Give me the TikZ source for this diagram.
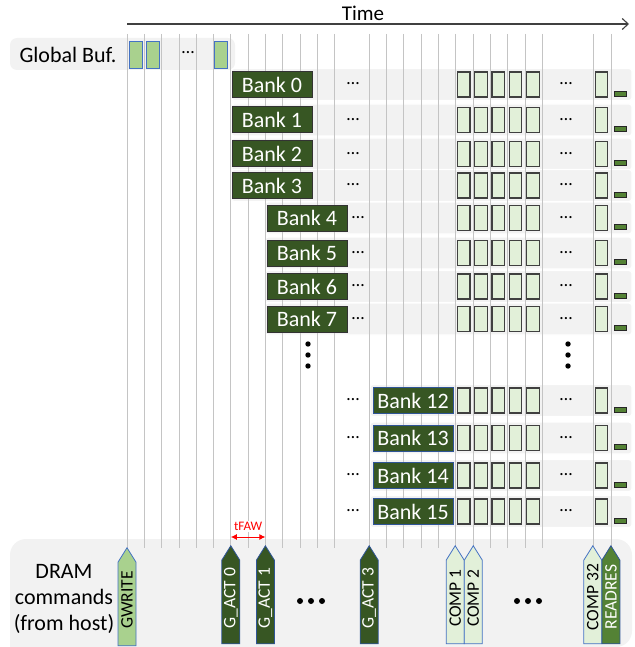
\documentclass[tikz,border=0pt]{standalone}
\usepackage{fontspec}
\setmainfont{Carlito}
\usetikzlibrary{shapes.symbols,arrows.meta}
\definecolor{bandgray}{HTML}{F2F2F2}
\definecolor{gridgray}{HTML}{C4C4C4}
\definecolor{bufgreen}{HTML}{A9D18E}
\definecolor{bufblue}{HTML}{4472C4}
\definecolor{bankgreen}{HTML}{375623}
\definecolor{compgreen}{HTML}{E2F0D9}
\definecolor{resgreen}{HTML}{548235}
\definecolor{cmdblue}{HTML}{2F5597}
\definecolor{boxgray}{HTML}{404040}
\begin{document}
\begin{tikzpicture}%
	[x=1pt, y=-1pt,
	band/.style={fill=bandgray, draw=white, line width=1.2pt, rounded corners=3pt},
	gridline/.style={color=gridgray, line width=0.8pt},
	bufbox/.style={draw=bufblue, fill=bufgreen, line width=0.9pt, minimum width=13pt, minimum height=27pt, inner sep=0pt},
	bank/.style={draw=black!80, fill=bankgreen, text=white, line width=1pt, minimum width=80pt, minimum height=26pt, inner sep=0pt, font=\fontsize{22}{26}\selectfont},
	farbank/.style={bank, draw=cmdblue},
	cbox/.style={draw=boxgray, fill=compgreen, line width=1.2pt, minimum width=12.5pt, minimum height=25pt, inner sep=0pt},
	rbar/.style={draw=black!85, fill=resgreen, line width=0.9pt, minimum width=12pt, minimum height=5pt, inner sep=0pt},
	hdots/.style={font=\fontsize{18}{20}\selectfont, inner sep=0pt},
	bigtext/.style={font=\fontsize{22}{26}\selectfont, inner sep=0pt},
	cmd/.style={signal, signal to=east, signal pointer angle=64, rotate=90, anchor=east, line width=0.8pt, minimum width=98pt, minimum height=18pt, inner sep=0pt},
	lightcmd/.style={cmd, draw=bufblue, fill=compgreen},
	darkcmd/.style={cmd, draw=cmdblue, fill=bankgreen},
	cmdtext/.style={rotate=90, inner sep=0pt, font=\fontsize{17.5}{17.5}\selectfont},
	timeline/.style={draw=boxgray, line width=1.1pt, -{Straight Barb[length=6pt, width=11pt]}},
	faw/.style={draw=red, line width=1pt, {Latex[length=6pt, width=6pt]}-{Latex[length=6pt, width=6pt]}}]
%
\useasboundingbox (0,0) rectangle (634,647);
%%
%% Backgrounds
%%
\fill[bandgray, rounded corners=16pt] (10,647) -- (10,539) -- (632,539) -- (632,647) [sharp corners] -- cycle;
\fill[bandgray, rounded corners=7pt] (10,38) rectangle (235,70);
\draw[band] (231,68.5) rectangle (632,100.5);
\draw[band] (231,104) rectangle (632,136);
\draw[band] (231,138) rectangle (632,170);
\draw[band] (231,169.5) rectangle (632,201.5);
\draw[band] (265,202) rectangle (632,234);
\draw[band] (265,237) rectangle (632,269);
\draw[band] (265,270.5) rectangle (632,302.5);
\draw[band] (265,303) rectangle (632,335);
\draw[band] (370,384.5) rectangle (632,416.5);
\draw[band] (370,422) rectangle (632,454);
\draw[band] (370,459.5) rectangle (632,491.5);
\draw[band] (370,495.5) rectangle (632,527.5);
%%
%% Time axis and grid
%%
\coordinate (timestart) at (127,24);
\coordinate (timeend) at (629,24);
\draw[timeline] (timestart) -- (timeend);
\node[bigtext, font=\fontsize{21}{24}\selectfont] (timelabel) at (363,13) {Time};
\draw[gridline] (127.0,34) -- (127.0,548);
\draw[gridline] (144.3,34) -- (144.3,548);
\draw[gridline] (161.6,34) -- (161.6,548);
\draw[gridline] (178.9,34) -- (178.9,548);
\draw[gridline] (196.2,34) -- (196.2,548);
\draw[gridline] (213.5,34) -- (213.5,548);
\draw[gridline] (230.8,34) -- (230.8,548);
\draw[gridline] (248.1,34) -- (248.1,548);
\draw[gridline] (265.4,34) -- (265.4,548);
\draw[gridline] (282.7,34) -- (282.7,548);
\draw[gridline] (300.0,34) -- (300.0,548);
\draw[gridline] (317.3,34) -- (317.3,548);
\draw[gridline] (334.6,34) -- (334.6,548);
\draw[gridline] (369.2,34) -- (369.2,548);
\draw[gridline] (386.5,34) -- (386.5,548);
\draw[gridline] (403.8,34) -- (403.8,548);
\draw[gridline] (421.1,34) -- (421.1,548);
\draw[gridline] (438.4,34) -- (438.4,548);
\draw[gridline] (455.7,34) -- (455.7,548);
\draw[gridline] (473.0,34) -- (473.0,548);
\draw[gridline] (490.3,34) -- (490.3,548);
\draw[gridline] (507.6,34) -- (507.6,548);
\draw[gridline] (524.9,34) -- (524.9,548);
\draw[gridline] (542.2,34) -- (542.2,548);
\draw[gridline] (593.6,34) -- (593.6,548);
\draw[gridline] (610.9,34) -- (610.9,548);
%%
%% Global buffer
%%
\node[bigtext] (gbuf) at (68,55) {Global Buf.};
\node[bufbox] (gbuf1) at (135.5,54.5) {};
\node[bufbox] (gbuf2) at (152.5,54.5) {};
\node[hdots] (gbufdots) at (188,53) {…};
\node[bufbox] (gbufn) at (221,54.5) {};
%%
%% Banks 0 - 3
%%
\node[bank] (bank0) at (272,84.5) {Bank 0};
\node[bank] (bank1) at (272,120) {Bank 1};
\node[bank] (bank2) at (272,154) {Bank 2};
\node[bank] (bank3) at (272,185.5) {Bank 3};
\node[hdots] (bank0dots) at (353,84) {…};
\node[hdots] (bank1dots) at (353,119.5) {…};
\node[hdots] (bank2dots) at (353,153.5) {…};
\node[hdots] (bank3dots) at (353,185) {…};
%%
%% Banks 4 - 7
%%
\node[bank] (bank4) at (307,218) {Bank 4};
\node[bank] (bank5) at (307,253) {Bank 5};
\node[bank] (bank6) at (307,286.5) {Bank 6};
\node[bank] (bank7) at (307,319) {Bank 7};
\node[hdots] (bank4dots) at (358,217.5) {…};
\node[hdots] (bank5dots) at (358,252.5) {…};
\node[hdots] (bank6dots) at (358,286) {…};
\node[hdots] (bank7dots) at (358,318.5) {…};
\fill (308,344) circle (2.7pt);
\fill (308,355) circle (2.7pt);
\fill (308,366) circle (2.7pt);
%%
%% Banks 12 - 15
%%
\node[farbank] (bank12) at (413,400.5) {Bank 12};
\node[farbank] (bank13) at (413,438) {Bank 13};
\node[farbank] (bank14) at (413,475.5) {Bank 14};
\node[farbank] (bank15) at (413,511.5) {Bank 15};
\node[hdots] (bank12dots) at (353,400) {…};
\node[hdots] (bank13dots) at (353,437.5) {…};
\node[hdots] (bank14dots) at (353,475) {…};
\node[hdots] (bank15dots) at (353,511) {…};
%%
%% Compute slots
%%
\node[cbox] (c0a) at (463.7,84.5) {};
\node[cbox] (c0b) at (481.0,84.5) {};
\node[cbox] (c0c) at (498.3,84.5) {};
\node[cbox] (c0d) at (515.6,84.5) {};
\node[cbox] (c0e) at (532.9,84.5) {};
\node[hdots] (c0dots) at (566,84) {…};
\node[cbox] (c0n) at (601.5,84.5) {};
\node[rbar] (r0) at (620,93.5) {};
\node[cbox] (c1a) at (463.7,120) {};
\node[cbox] (c1b) at (481.0,120) {};
\node[cbox] (c1c) at (498.3,120) {};
\node[cbox] (c1d) at (515.6,120) {};
\node[cbox] (c1e) at (532.9,120) {};
\node[hdots] (c1dots) at (566,119.5) {…};
\node[cbox] (c1n) at (601.5,120) {};
\node[rbar] (r1) at (620,129) {};
\node[cbox] (c2a) at (463.7,154) {};
\node[cbox] (c2b) at (481.0,154) {};
\node[cbox] (c2c) at (498.3,154) {};
\node[cbox] (c2d) at (515.6,154) {};
\node[cbox] (c2e) at (532.9,154) {};
\node[hdots] (c2dots) at (566,153.5) {…};
\node[cbox] (c2n) at (601.5,154) {};
\node[rbar] (r2) at (620,163) {};
\node[cbox] (c3a) at (463.7,185.5) {};
\node[cbox] (c3b) at (481.0,185.5) {};
\node[cbox] (c3c) at (498.3,185.5) {};
\node[cbox] (c3d) at (515.6,185.5) {};
\node[cbox] (c3e) at (532.9,185.5) {};
\node[hdots] (c3dots) at (566,185) {…};
\node[cbox] (c3n) at (601.5,185.5) {};
\node[rbar] (r3) at (620,194.5) {};
\node[cbox] (c4a) at (463.7,218) {};
\node[cbox] (c4b) at (481.0,218) {};
\node[cbox] (c4c) at (498.3,218) {};
\node[cbox] (c4d) at (515.6,218) {};
\node[cbox] (c4e) at (532.9,218) {};
\node[hdots] (c4dots) at (566,217.5) {…};
\node[cbox] (c4n) at (601.5,218) {};
\node[rbar] (r4) at (620,227) {};
\node[cbox] (c5a) at (463.7,253) {};
\node[cbox] (c5b) at (481.0,253) {};
\node[cbox] (c5c) at (498.3,253) {};
\node[cbox] (c5d) at (515.6,253) {};
\node[cbox] (c5e) at (532.9,253) {};
\node[hdots] (c5dots) at (566,252.5) {…};
\node[cbox] (c5n) at (601.5,253) {};
\node[rbar] (r5) at (620,262) {};
\node[cbox] (c6a) at (463.7,286.5) {};
\node[cbox] (c6b) at (481.0,286.5) {};
\node[cbox] (c6c) at (498.3,286.5) {};
\node[cbox] (c6d) at (515.6,286.5) {};
\node[cbox] (c6e) at (532.9,286.5) {};
\node[hdots] (c6dots) at (566,286) {…};
\node[cbox] (c6n) at (601.5,286.5) {};
\node[rbar] (r6) at (620,295.5) {};
\node[cbox] (c7a) at (463.7,319) {};
\node[cbox] (c7b) at (481.0,319) {};
\node[cbox] (c7c) at (498.3,319) {};
\node[cbox] (c7d) at (515.6,319) {};
\node[cbox] (c7e) at (532.9,319) {};
\node[hdots] (c7dots) at (566,318.5) {…};
\node[cbox] (c7n) at (601.5,319) {};
\node[rbar] (r7) at (620,328) {};
\fill (568,344) circle (2.7pt);
\fill (568,355) circle (2.7pt);
\fill (568,366) circle (2.7pt);
\node[cbox] (c12a) at (463.7,400.5) {};
\node[cbox] (c12b) at (481.0,400.5) {};
\node[cbox] (c12c) at (498.3,400.5) {};
\node[cbox] (c12d) at (515.6,400.5) {};
\node[cbox] (c12e) at (532.9,400.5) {};
\node[hdots] (c12dots) at (566,400) {…};
\node[cbox] (c12n) at (601.5,400.5) {};
\node[rbar] (r12) at (620,409.5) {};
\node[cbox] (c13a) at (463.7,438) {};
\node[cbox] (c13b) at (481.0,438) {};
\node[cbox] (c13c) at (498.3,438) {};
\node[cbox] (c13d) at (515.6,438) {};
\node[cbox] (c13e) at (532.9,438) {};
\node[hdots] (c13dots) at (566,437.5) {…};
\node[cbox] (c13n) at (601.5,438) {};
\node[rbar] (r13) at (620,447) {};
\node[cbox] (c14a) at (463.7,475.5) {};
\node[cbox] (c14b) at (481.0,475.5) {};
\node[cbox] (c14c) at (498.3,475.5) {};
\node[cbox] (c14d) at (515.6,475.5) {};
\node[cbox] (c14e) at (532.9,475.5) {};
\node[hdots] (c14dots) at (566,475) {…};
\node[cbox] (c14n) at (601.5,475.5) {};
\node[rbar] (r14) at (620,484.5) {};
\node[cbox] (c15a) at (463.7,511.5) {};
\node[cbox] (c15b) at (481.0,511.5) {};
\node[cbox] (c15c) at (498.3,511.5) {};
\node[cbox] (c15d) at (515.6,511.5) {};
\node[cbox] (c15e) at (532.9,511.5) {};
\node[hdots] (c15dots) at (566,511) {…};
\node[cbox] (c15n) at (601.5,511.5) {};
\node[rbar] (r15) at (620,520.5) {};
%%
%% DRAM commands
%%
\node[bigtext, align=center] (dramlabel) at (64,599) {DRAM\\commands\\(from host)};
\node[cmd, draw=bufblue, fill=bufgreen] (gwrite) at (127.0,547) {};
\node[darkcmd] (gact0) at (230.8,545) {};
\node[darkcmd] (gact1) at (265.4,545) {};
\node[darkcmd] (gact3) at (369.2,545) {};
\node[lightcmd] (comp1) at (455.2,545) {};
\node[lightcmd] (comp2) at (473.3,545) {};
\node[lightcmd] (comp32) at (592.8,545) {};
\node[darkcmd, fill=resgreen] (readres) at (610.9,545) {};
\node[cmdtext] (gwritetext) at (127.0,600) {GWRITE};
\node[cmdtext, text=white] (gact0text) at (230.8,598) {G\_ACT 0};
\node[cmdtext, text=white] (gact1text) at (265.4,598) {G\_ACT 1};
\node[cmdtext, text=white] (gact3text) at (369.2,598) {G\_ACT 3};
\node[cmdtext] (comp1text) at (455.2,598) {COMP 1};
\node[cmdtext] (comp2text) at (473.3,598) {COMP 2};
\node[cmdtext] (comp32text) at (592.8,597) {COMP 32};
\node[cmdtext, text=white] (readrestext) at (610.9,597) {READRES};
\fill (300,601) circle (3pt);
\fill (311,601) circle (3pt);
\fill (322,601) circle (3pt);
\fill (517,601) circle (3pt);
\fill (528,601) circle (3pt);
\fill (539,601) circle (3pt);
%%
%% tFAW
%%
\draw[faw] ([yshift=8pt]gact0.east) -- ([yshift=8pt]gact1.east)
	node[midway, above=5pt, fill=white, inner sep=1pt, text=red, font=\fontsize{13}{13}\selectfont] (fawlabel) {tFAW};
%%
\end{tikzpicture}
\end{document}
